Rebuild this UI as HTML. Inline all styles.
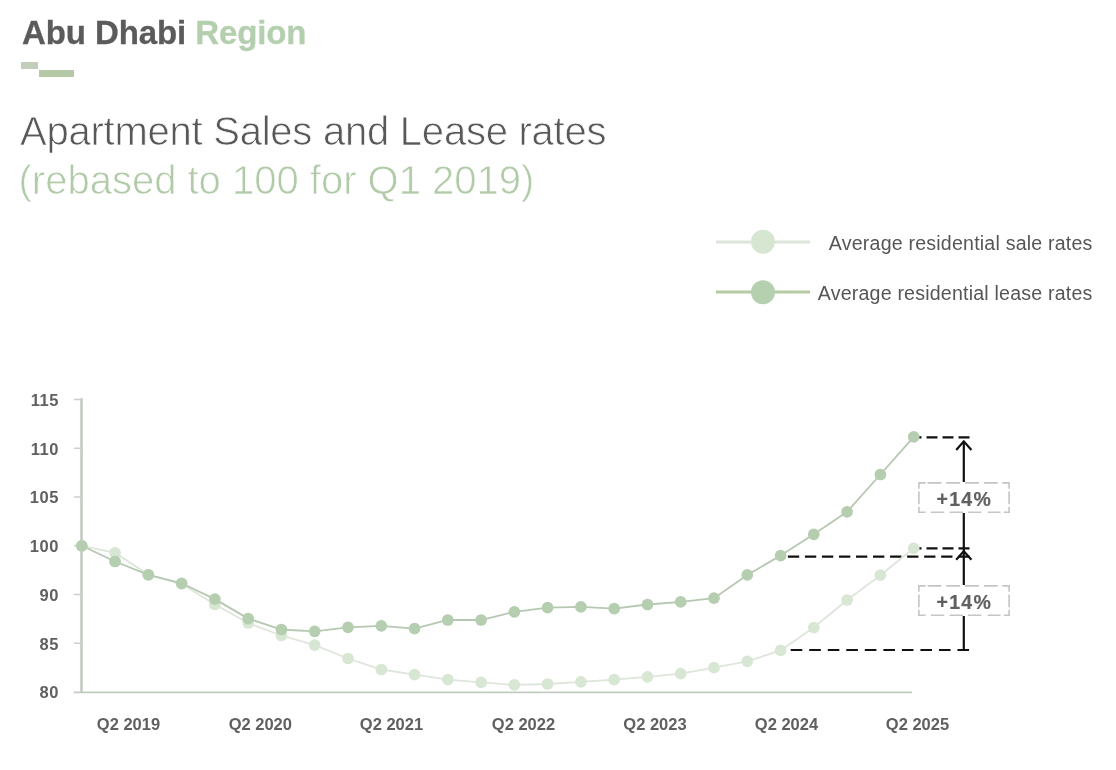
<!DOCTYPE html>
<html lang="en"><head><meta charset="utf-8"><title>Abu Dhabi Region</title>
<style>
html,body{margin:0;padding:0;background:#fff;}
body{width:1116px;height:770px;position:relative;overflow:hidden;font-family:"Liberation Sans",Arial,Helvetica,sans-serif;}
.hd{position:absolute;left:22px;top:13.5px;-webkit-text-stroke:0.3px;font-size:33px;font-weight:bold;line-height:38px;color:#5b5b5b;white-space:nowrap;letter-spacing:-0.1px}
.hd span{color:#b4cfae}
.b1{position:absolute;left:21.2px;top:61.8px;width:17.2px;height:7.6px;background:#c2cdbc}
.b2{position:absolute;left:38.6px;top:70px;width:35.4px;height:6.9px;background:#b5c9a7}
.t1{position:absolute;left:20px;top:107px;font-size:40px;line-height:48px;color:#585858;white-space:nowrap;letter-spacing:-0.24px;-webkit-text-stroke:0.75px #fff}
.t2{position:absolute;left:18.5px;top:156px;font-size:40px;line-height:48px;color:#b1cba9;white-space:nowrap;-webkit-text-stroke:0.75px #fff}
svg text{font-family:"Liberation Sans",Arial,Helvetica,sans-serif}
.tk{font-size:16.5px;font-weight:bold;fill:#606060}
.tky{letter-spacing:0.5px}
.pc{font-size:19.5px;font-weight:bold;fill:#606060;stroke:#606060;stroke-width:0.2px;letter-spacing:1.3px}
.lg{font-size:19.6px;fill:#565656;letter-spacing:0.2px}
</style></head><body>
<div class="hd">Abu Dhabi <span>Region</span></div>
<div class="b1"></div><div class="b2"></div>
<div class="t1">Apartment Sales and Lease rates</div>
<div class="t2">(rebased to 100 for Q1 2019)</div>
<svg width="1116" height="770" viewBox="0 0 1116 770" style="position:absolute;left:0;top:0">
<line x1="81.5" y1="398.3" x2="81.5" y2="693" stroke="#c3cbc2" stroke-width="2.6"/>
<line x1="73.5" y1="692.4" x2="912" y2="692.4" stroke="#c3cbc2" stroke-width="1.9"/>
<line x1="74" y1="399.5" x2="81.5" y2="399.5" stroke="#c9d2c8" stroke-width="1.5"/>
<line x1="74" y1="448.3" x2="81.5" y2="448.3" stroke="#c9d2c8" stroke-width="1.5"/>
<line x1="74" y1="497" x2="81.5" y2="497" stroke="#c9d2c8" stroke-width="1.5"/>
<line x1="74" y1="545.6" x2="81.5" y2="545.6" stroke="#c9d2c8" stroke-width="1.5"/>
<line x1="74" y1="594.5" x2="81.5" y2="594.5" stroke="#c9d2c8" stroke-width="1.5"/>
<line x1="74" y1="643.2" x2="81.5" y2="643.2" stroke="#c9d2c8" stroke-width="1.5"/>
<text x="58.9" y="405.8" text-anchor="end" class="tk tky">115</text>
<text x="58.9" y="454.6" text-anchor="end" class="tk tky">110</text>
<text x="58.9" y="503.3" text-anchor="end" class="tk tky">105</text>
<text x="58.9" y="551.9" text-anchor="end" class="tk tky">100</text>
<text x="58.9" y="600.8" text-anchor="end" class="tk tky">90</text>
<text x="58.9" y="649.5" text-anchor="end" class="tk tky">85</text>
<text x="58.9" y="698.2" text-anchor="end" class="tk tky">80</text>
<text x="128.5" y="729.7" text-anchor="middle" class="tk">Q2 2019</text>
<text x="260.3" y="729.7" text-anchor="middle" class="tk">Q2 2020</text>
<text x="391.5" y="729.7" text-anchor="middle" class="tk">Q2 2021</text>
<text x="523.5" y="729.7" text-anchor="middle" class="tk">Q2 2022</text>
<text x="655" y="729.7" text-anchor="middle" class="tk">Q2 2023</text>
<text x="786.5" y="729.7" text-anchor="middle" class="tk">Q2 2024</text>
<text x="917.5" y="729.7" text-anchor="middle" class="tk">Q2 2025</text>
<g stroke="#111" stroke-width="2.2" fill="none">
<line x1="969.5" y1="437.3" x2="914" y2="437.3" stroke-dasharray="11 5"/>
<line x1="969.5" y1="548.4" x2="914" y2="548.4" stroke-dasharray="11 5"/>
<line x1="787.9" y1="556.6" x2="969.5" y2="556.6" stroke-dasharray="11.3 5.73"/>
<line x1="790.7" y1="650" x2="969.5" y2="650" stroke-dasharray="11.6 6.93"/>
<path d="M963.8 441.8 V482 M963.8 513 V585 M963.8 616 V649"/>
<path d="M956.2 450 L963.8 441.3 L971.4 450" stroke-linejoin="miter"/>
<path d="M956.2 559.8 L963.8 551.1 L971.4 559.8" stroke-linejoin="miter"/>
</g>
<polyline points="81.8,545.8 115.1,552.9 148.3,574.6 181.6,583.8 214.9,604.5 248.2,623.0 281.4,635.5 314.7,645.1 348.0,658.5 381.3,669.5 414.6,674.7 447.8,679.6 481.1,682.4 514.4,684.9 547.6,684.0 580.9,681.8 614.2,679.6 647.5,676.9 680.7,673.6 714.0,667.6 747.3,661.3 780.6,650.4 813.8,627.5 847.1,600.0 880.4,575.2 913.7,548.3" fill="none" stroke="#dee6db" stroke-width="1.8"/>
<circle cx="81.8" cy="545.8" r="5.85" fill="#d8e6d4"/>
<circle cx="115.1" cy="552.9" r="5.85" fill="#d8e6d4"/>
<circle cx="148.3" cy="574.6" r="5.85" fill="#d8e6d4"/>
<circle cx="181.6" cy="583.8" r="5.85" fill="#d8e6d4"/>
<circle cx="214.9" cy="604.5" r="5.85" fill="#d8e6d4"/>
<circle cx="248.2" cy="623.0" r="5.85" fill="#d8e6d4"/>
<circle cx="281.4" cy="635.5" r="5.85" fill="#d8e6d4"/>
<circle cx="314.7" cy="645.1" r="5.85" fill="#d8e6d4"/>
<circle cx="348.0" cy="658.5" r="5.85" fill="#d8e6d4"/>
<circle cx="381.3" cy="669.5" r="5.85" fill="#d8e6d4"/>
<circle cx="414.6" cy="674.7" r="5.85" fill="#d8e6d4"/>
<circle cx="447.8" cy="679.6" r="5.85" fill="#d8e6d4"/>
<circle cx="481.1" cy="682.4" r="5.85" fill="#d8e6d4"/>
<circle cx="514.4" cy="684.9" r="5.85" fill="#d8e6d4"/>
<circle cx="547.6" cy="684.0" r="5.85" fill="#d8e6d4"/>
<circle cx="580.9" cy="681.8" r="5.85" fill="#d8e6d4"/>
<circle cx="614.2" cy="679.6" r="5.85" fill="#d8e6d4"/>
<circle cx="647.5" cy="676.9" r="5.85" fill="#d8e6d4"/>
<circle cx="680.7" cy="673.6" r="5.85" fill="#d8e6d4"/>
<circle cx="714.0" cy="667.6" r="5.85" fill="#d8e6d4"/>
<circle cx="747.3" cy="661.3" r="5.85" fill="#d8e6d4"/>
<circle cx="780.6" cy="650.4" r="5.85" fill="#d8e6d4"/>
<circle cx="813.8" cy="627.5" r="5.85" fill="#d8e6d4"/>
<circle cx="847.1" cy="600.0" r="5.85" fill="#d8e6d4"/>
<circle cx="880.4" cy="575.2" r="5.85" fill="#d8e6d4"/>
<circle cx="913.7" cy="548.3" r="5.85" fill="#d8e6d4"/>
<polyline points="81.8,545.8 115.1,561.5 148.3,574.9 181.6,583.3 214.9,599.1 248.2,618.6 281.4,629.5 314.7,631.3 348.0,627.3 381.3,625.8 414.6,628.7 447.8,620.0 481.1,620.0 514.4,611.8 547.6,607.6 580.9,606.9 614.2,608.7 647.5,604.5 680.7,601.8 714.0,598.2 747.3,574.9 780.6,555.6 813.8,534.3 847.1,511.8 880.4,474.5 913.7,436.9" fill="none" stroke="#b6c7b2" stroke-width="1.8"/>
<circle cx="81.8" cy="545.8" r="5.85" fill="#b4ceaf"/>
<circle cx="115.1" cy="561.5" r="5.85" fill="#b4ceaf"/>
<circle cx="148.3" cy="574.9" r="5.85" fill="#b4ceaf"/>
<circle cx="181.6" cy="583.3" r="5.85" fill="#b4ceaf"/>
<circle cx="214.9" cy="599.1" r="5.85" fill="#b4ceaf"/>
<circle cx="248.2" cy="618.6" r="5.85" fill="#b4ceaf"/>
<circle cx="281.4" cy="629.5" r="5.85" fill="#b4ceaf"/>
<circle cx="314.7" cy="631.3" r="5.85" fill="#b4ceaf"/>
<circle cx="348.0" cy="627.3" r="5.85" fill="#b4ceaf"/>
<circle cx="381.3" cy="625.8" r="5.85" fill="#b4ceaf"/>
<circle cx="414.6" cy="628.7" r="5.85" fill="#b4ceaf"/>
<circle cx="447.8" cy="620.0" r="5.85" fill="#b4ceaf"/>
<circle cx="481.1" cy="620.0" r="5.85" fill="#b4ceaf"/>
<circle cx="514.4" cy="611.8" r="5.85" fill="#b4ceaf"/>
<circle cx="547.6" cy="607.6" r="5.85" fill="#b4ceaf"/>
<circle cx="580.9" cy="606.9" r="5.85" fill="#b4ceaf"/>
<circle cx="614.2" cy="608.7" r="5.85" fill="#b4ceaf"/>
<circle cx="647.5" cy="604.5" r="5.85" fill="#b4ceaf"/>
<circle cx="680.7" cy="601.8" r="5.85" fill="#b4ceaf"/>
<circle cx="714.0" cy="598.2" r="5.85" fill="#b4ceaf"/>
<circle cx="747.3" cy="574.9" r="5.85" fill="#b4ceaf"/>
<circle cx="780.6" cy="555.6" r="5.85" fill="#b4ceaf"/>
<circle cx="813.8" cy="534.3" r="5.85" fill="#b4ceaf"/>
<circle cx="847.1" cy="511.8" r="5.85" fill="#b4ceaf"/>
<circle cx="880.4" cy="474.5" r="5.85" fill="#b4ceaf"/>
<circle cx="913.7" cy="436.9" r="5.85" fill="#b4ceaf"/>
<rect x="918.9" y="482.9" width="90.2" height="29.4" fill="#fff"/>
<path d="M918.9 482.9H924.8M928.3 482.9H940.6M947.0 482.9H959.3M965.7 482.9H978.1M984.9 482.9H996.8M1003.2 482.9H1009.1M918.9 512.3H924.8M931.7 512.3H943.5M950.4 512.3H962.3M968.7 512.3H980.5M988.4 512.3H999.7M1004.6 512.3H1009.1M918.9 482.9V487.9M1009.1 482.9V487.9M918.9 492.3V503.4M1009.1 492.3V503.4M918.9 507.5V512.3M1009.1 507.5V512.3" fill="none" stroke="#c5c5c5" stroke-width="1.6" stroke-linecap="square"/>
<text x="964.3" y="505.6" text-anchor="middle" class="pc">+14%</text>
<rect x="918.9" y="585.9" width="90.2" height="29.4" fill="#fff"/>
<path d="M918.9 585.9H924.8M928.3 585.9H940.6M947.0 585.9H959.3M965.7 585.9H978.1M984.9 585.9H996.8M1003.2 585.9H1009.1M918.9 615.3H924.8M931.7 615.3H943.5M950.4 615.3H962.3M968.7 615.3H980.5M988.4 615.3H999.7M1004.6 615.3H1009.1M918.9 585.9V590.9M1009.1 585.9V590.9M918.9 595.3V606.4M1009.1 595.3V606.4M918.9 610.5V615.3M1009.1 610.5V615.3" fill="none" stroke="#c5c5c5" stroke-width="1.6" stroke-linecap="square"/>
<text x="964.3" y="608.6" text-anchor="middle" class="pc">+14%</text>
<line x1="716" y1="242" x2="810" y2="242" stroke="#dde4da" stroke-width="3"/><circle cx="763" cy="241.8" r="12" fill="#d6e6d1"/>
<line x1="716" y1="292" x2="810" y2="292" stroke="#b5cca3" stroke-width="3"/><circle cx="763" cy="292.2" r="12" fill="#b4d0af"/>
<text x="1092.6" y="249.7" text-anchor="end" class="lg">Average residential sale rates</text>
<text x="1092.6" y="299.5" text-anchor="end" class="lg">Average residential lease rates</text>
</svg>
</body></html>
